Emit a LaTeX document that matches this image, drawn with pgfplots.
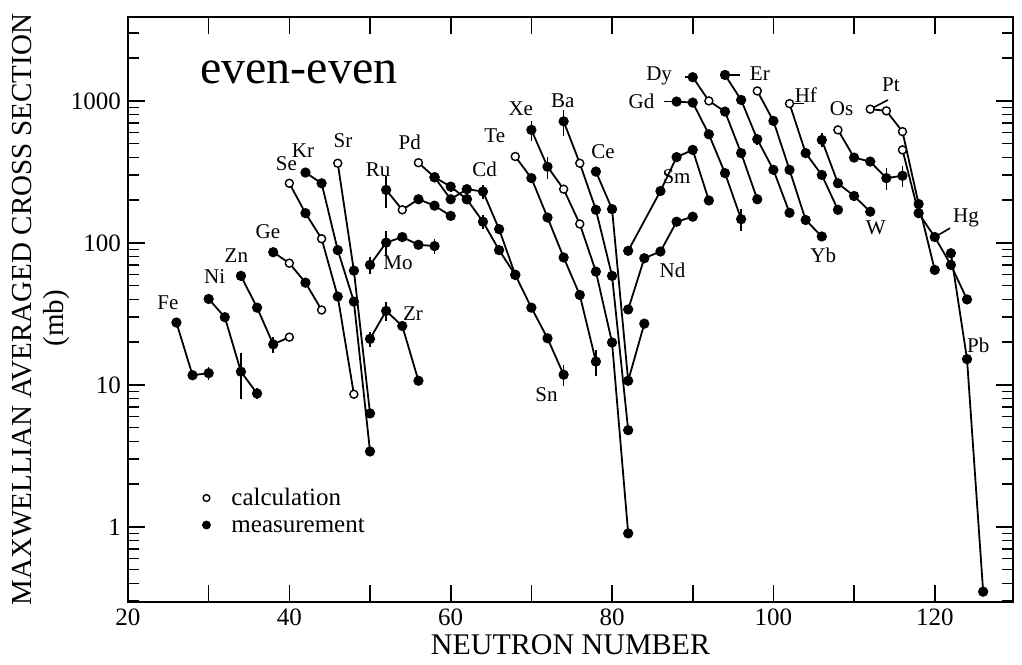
\documentclass[border=0pt]{standalone}
\usepackage{fontspec}
\setmainfont{Liberation Serif}
\usepackage{pgfplots}
\pgfplotsset{compat=1.18}
\pgfplotsset{
  chain/.style={black, line width=0.9pt, forget plot,
    scatter, scatter src=explicit symbolic,
    scatter/classes={
      c={mark=*, mark size=2pt, fill=white, draw=black, line width=0.7pt},
      m={mark=*, mark size=2.1pt, fill=black, draw=black}},
    error bars/y dir=both, error bars/y explicit,
    error bars/error mark=none,
    error bars/error bar style={line width=0.8pt, black}},
}
\tikzset{lab/.style={font=\fontsize{10.5}{12}\selectfont, inner sep=0pt}}
\begin{document}
\begin{tikzpicture}
\begin{axis}[
  scale only axis, width=442.5pt, height=292.5pt,
  xmin=20, xmax=129.7, ymode=log, ymin=0.296, ymax=3900,
  xtick={20,30,...,120}, xticklabels={20,,40,,60,,80,,100,,120},
  ytick={1,10,100,1000}, yticklabels={1,10,100,1000},
  minor ytick={0.3,0.4,0.5,0.6,0.7,0.8,0.9,2,3,4,5,6,7,8,9,20,30,40,50,60,70,80,90,200,300,400,500,600,700,800,900,2000,3000},
  tick align=inside, major tick length=8.5pt, minor tick length=5.5pt,
  tick style={line width=0.8pt, black},
  axis line style={line width=1pt},
  ticklabel style={font=\fontsize{12.5}{14}\selectfont},
  /pgf/number format/assume math mode=true,
  clip=false,
  legend cell align=left,
  legend style={at={(rel axis cs:0.0837,0.1930)}, anchor=north west, draw=none, fill=none,
    inner sep=0pt, row sep=5pt, column sep=10pt, font=\fontsize{12.5}{15}\selectfont,
    nodes={inner sep=0.5pt, text height=7.5pt, text depth=0pt}},
]
\addlegendimage{only marks, mark=*, mark size=1.7pt, mark options={fill=white, draw=black, line width=0.7pt}}
\addlegendentry{calculation}
\addlegendimage{only marks, mark=*, mark size=2pt, black}
\addlegendentry{measurement}

% Fe
\addplot[chain] table[x=N,y=v,meta=t,y error=e]{
N v t e
26 27.5 m 0
28 11.7 m 0
30 12.1 m 1.2
};
% Ni
\addplot[chain] table[x=N,y=v,meta=t,y error=e]{
N v t e
30 40.3 m 0
32 30 m 0
34 12.4 m 4.5
36 8.7 m 0.8
};
% Zn
\addplot[chain] table[x=N,y=v,meta=t,y error=e]{
N v t e
34 58.6 m 3
36 35 m 0
38 19.3 m 2.5
40 21.7 c 0
};
% Ge
\addplot[chain] table[x=N,y=v,meta=t,y error=e]{
N v t e
38 86 m 0
40 72 c 0
42 52.5 m 0
44 33.7 c 0
};
% Se
\addplot[chain] table[x=N,y=v,meta=t,y error=e]{
N v t e
40 263 c 0
42 162 m 0
44 107 c 0
46 41.9 m 0
48 8.6 c 0
};
% Kr
\addplot[chain] table[x=N,y=v,meta=t,y error=e]{
N v t e
42 313 m 0
44 263 m 0
46 89 m 0
48 38.6 m 0
50 3.4 m 0
};
% Sr
\addplot[chain] table[x=N,y=v,meta=t,y error=e]{
N v t e
46 364 c 0
48 63.8 m 0
50 6.3 m 0
};
% Zr
\addplot[chain] table[x=N,y=v,meta=t,y error=e]{
N v t e
50 21.1 m 2.5
52 33.2 m 5
54 26 m 0
56 10.7 m 0
};
% Mo
\addplot[chain] table[x=N,y=v,meta=t,y error=e]{
N v t e
50 70 m 10
52 100.5 m 20
54 110 m 0
56 97 m 0
58 95 m 12
};
% Ru
\addplot[chain] table[x=N,y=v,meta=t,y error=e]{
N v t e
52 236 m 60
54 171 c 0
56 203 m 0
58 183 m 0
60 155 m 0
};
% Pd
\addplot[chain] table[x=N,y=v,meta=t,y error=e]{
N v t e
56 367 c 0
58 290 m 0
60 249 m 20
62 203 m 0
};
% Cd
\addplot[chain] table[x=N,y=v,meta=t,y error=e]{
N v t e
58 290 m 0
60 203 m 0
62 239 m 0
64 230 m 25
66 125 m 0
68 59.6 m 0
};
% Sn
\addplot[chain] table[x=N,y=v,meta=t,y error=e]{
N v t e
62 203 m 0
64 141 m 15
66 89 m 0
68 59.6 m 0
70 35 m 0
72 21.3 m 0
74 11.8 m 2
};
% Te
\addplot[chain] table[x=N,y=v,meta=t,y error=e]{
N v t e
68 406 c 0
70 286 m 0
72 151 m 0
74 79 m 0
76 43 m 0
78 14.6 m 3
};
% Xe
\addplot[chain] table[x=N,y=v,meta=t,y error=e]{
N v t e
70 625 m 100
72 344 m 60
74 239 c 0
76 136 c 0
78 62.8 m 0
80 19.9 m 0
82 0.9 m 0
};
% Ba
\addplot[chain] table[x=N,y=v,meta=t,y error=e]{
N v t e
74 718 m 150
76 364 c 0
78 171 m 0
80 58.6 m 0
82 4.8 m 0
};
% Ce
\addplot[chain] table[x=N,y=v,meta=t,y error=e]{
N v t e
78 318 m 0
80 173 m 0
82 10.7 m 0
84 27 m 0
};
% Nd
\addplot[chain] table[x=N,y=v,meta=t,y error=e]{
N v t e
82 34 m 0
84 78 m 0
86 87 m 0
88 141 m 0
90 153 m 0
};
% Sm
\addplot[chain] table[x=N,y=v,meta=t,y error=e]{
N v t e
82 88 m 0
86 232 m 0
88 402 m 0
90 452 m 0
92 199 m 0
};
% Gd
\addplot[chain] table[x=N,y=v,meta=t,y error=e]{
N v t e
88 989 m 0
90 973 m 0
92 582 m 0
94 310 m 0
96 147 m 25
};
% Dy
\addplot[chain] table[x=N,y=v,meta=t,y error=e]{
N v t e
90 1469 m 0
92 1000 c 0
94 841 m 0
96 429 m 0
98 203 m 0
};
% Er
\addplot[chain] table[x=N,y=v,meta=t,y error=e]{
N v t e
94 1524 m 0
96 1016 m 0
98 537 m 50
100 327 m 0
102 163 m 0
};
% Yb
\addplot[chain] table[x=N,y=v,meta=t,y error=e]{
N v t e
98 1175 c 0
100 723 m 0
102 327 m 0
104 145 m 0
106 111 m 0
};
% Hf
\addplot[chain] table[x=N,y=v,meta=t,y error=e]{
N v t e
102 957 c 0
104 429 m 0
106 301 m 0
108 171 m 0
};
% W
\addplot[chain] table[x=N,y=v,meta=t,y error=e]{
N v t e
106 531 m 60
108 263 m 0
110 214 m 0
112 166 m 0
};
% Os
\addplot[chain] table[x=N,y=v,meta=t,y error=e]{
N v t e
108 625 c 0
110 399 m 0
112 374 m 0
114 286 m 50
116 297 m 50
};
% Pt
\addplot[chain] table[x=N,y=v,meta=t,y error=e]{
N v t e
112 875 c 0
114 851 c 0
116 608 c 0
118 188 m 0
120 64.5 m 0
};
% Hg
\addplot[chain] table[x=N,y=v,meta=t,y error=e]{
N v t e
116 452 c 0
118 162 m 0
120 110 m 0
122 70 m 0
124 40 m 0
};
% Pb
\addplot[chain] table[x=N,y=v,meta=t,y error=e]{
N v t e
122 84.6 m 0
124 15.2 m 0
126 0.35 m 0
};

% leader lines
\draw[line width=0.8pt] (axis cs:86.5,989) -- (axis cs:88,989);
\draw[line width=0.8pt] (axis cs:89.1,1469) -- (axis cs:90,1469);
\draw[line width=0.8pt] (axis cs:94,1524) -- (axis cs:95.9,1524);
\draw[line width=0.8pt] (axis cs:102,957) -- (axis cs:103.8,957);
\draw[line width=0.8pt] (axis cs:112,875) -- (axis cs:114.2,1016);
\draw[line width=0.8pt] (axis cs:120,110) -- (axis cs:121.9,127);

% element labels
\node[lab] at (axis cs:24.95,38) {Fe};
\node[lab] at (axis cs:30.74,58) {Ni};
\node[lab] at (axis cs:33.43,81) {Zn};
\node[lab] at (axis cs:37.35,121) {Ge};
\node[lab] at (axis cs:39.63,364) {Se};
\node[lab] at (axis cs:41.69,447) {Kr};
\node[lab] at (axis cs:46.65,522) {Sr};
\node[lab] at (axis cs:50.99,327) {Ru};
\node[lab] at (axis cs:54.92,514) {Pd};
\node[lab] at (axis cs:53.47,73) {Mo};
\node[lab] at (axis cs:55.33,32) {Zr};
\node[lab] at (axis cs:64.22,330) {Cd};
\node[lab] at (axis cs:65.46,567) {Te};
\node[lab] at (axis cs:71.87,8.5) {Sn};
\node[lab] at (axis cs:68.69,879) {Xe};
\node[lab] at (axis cs:73.9,1000) {Ba};
\node[lab] at (axis cs:78.89,440) {Ce};
\node[lab] at (axis cs:87.99,293) {Sm};
\node[lab] at (axis cs:87.5,64.6) {Nd};
\node[lab] at (axis cs:83.65,1000) {Gd};
\node[lab] at (axis cs:85.84,1500) {Dy};
\node[lab] at (axis cs:98.32,1567) {Er};
\node[lab] at (axis cs:104.03,1101) {Hf};
\node[lab] at (axis cs:108.45,889) {Os};
\node[lab] at (axis cs:114.57,1297) {Pt};
\node[lab] at (axis cs:112.7,127) {W};
\node[lab] at (axis cs:106.17,82.3) {Yb};
\node[lab] at (axis cs:123.87,149) {Hg};
\node[lab] at (axis cs:125.4,19.1) {Pb};

\node[font=\fontsize{24}{28}\selectfont, inner sep=0pt] at (axis cs:41.16,1600) {even-even};

\node[font=\fontsize{15}{17}\selectfont, inner sep=0pt] at (rel axis cs:0.5,-0.0735) {NEUTRON NUMBER};
\node[font=\fontsize{14.5}{17}\selectfont, inner sep=0pt, rotate=90] at (rel axis cs:-0.1198,0.5) {MAXWELLIAN AVERAGED CROSS SECTION};
\node[font=\fontsize{14.5}{17}\selectfont, inner sep=0pt, rotate=90] at (rel axis cs:-0.081,0.485) {(mb)};
\end{axis}
\pgfresetboundingbox
\path ([shift={(-64pt,-31pt)}]current axis.south west) rectangle ([shift={(447pt,301pt)}]current axis.south west);
\end{tikzpicture}
\end{document}
